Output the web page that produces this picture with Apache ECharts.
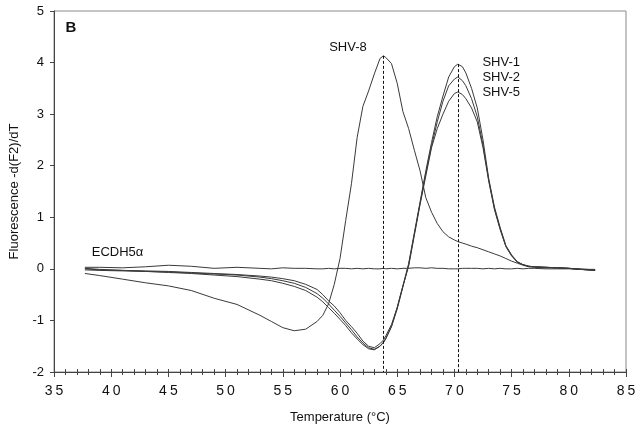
<!DOCTYPE html>
<html>
<head>
<meta charset="utf-8">
<script src="https://cdn.jsdelivr.net/npm/echarts@6/dist/echarts.min.js"></script>
<style>html,body{margin:0;padding:0;background:#fff}#c{width:639px;height:431px}</style>
</head>
<body>
<div id="c"></div>
<script>
// Temperature grid (°C)
var temps = [37.7, 39, 41, 43, 45, 47, 49, 51, 53, 54, 55, 56, 57, 58, 58.5, 59, 59.5, 60, 60.5, 61, 61.5, 62, 62.5, 63, 63.5, 63.8, 64, 64.5, 65, 65.5, 66, 66.5, 67, 67.5, 68, 68.5, 69, 69.5, 70, 70.3, 70.7, 71, 71.5, 72, 72.5, 73, 73.5, 74, 74.5, 75, 75.5, 76, 76.5, 77, 78, 79, 80, 81, 82.3];

var shv8 = [-0.09, -0.13, -0.2, -0.27, -0.33, -0.42, -0.57, -0.69, -0.9, -1.02, -1.14, -1.2, -1.17, -1.02, -0.9, -0.68, -0.3, 0.2, 0.94, 1.65, 2.55, 3.15, 3.45, 3.78, 4.08, 4.13, 4.1, 3.98, 3.6, 3.05, 2.72, 2.3, 1.9, 1.38, 1.1, 0.88, 0.72, 0.62, 0.56, 0.53, 0.5, 0.48, 0.44, 0.41, 0.37, 0.33, 0.29, 0.25, 0.2, 0.15, 0.11, 0.07, 0.04, 0.03, 0.02, 0.02, 0.01, 0.0, -0.02];

var shv1 = [-0.02, -0.03, -0.04, -0.05, -0.07, -0.09, -0.12, -0.15, -0.2, -0.23, -0.28, -0.34, -0.42, -0.55, -0.64, -0.75, -0.86, -0.98, -1.1, -1.24, -1.36, -1.47, -1.55, -1.57, -1.5, -1.42, -1.35, -1.12, -0.75, -0.33, 0.1, 0.7, 1.3, 1.9, 2.45, 2.95, 3.35, 3.72, 3.92, 3.97, 3.92, 3.8, 3.5, 3.12, 2.5, 1.75, 1.2, 0.8, 0.45, 0.27, 0.14, 0.08, 0.05, 0.04, 0.03, 0.02, 0.01, -0.01, -0.03];

var shv2 = [0.0, -0.02, -0.03, -0.05, -0.06, -0.08, -0.1, -0.12, -0.16, -0.19, -0.23, -0.28, -0.36, -0.48, -0.57, -0.68, -0.8, -0.92, -1.05, -1.18, -1.32, -1.44, -1.53, -1.56, -1.5, -1.43, -1.36, -1.12, -0.78, -0.35, 0.08, 0.68, 1.27, 1.85, 2.38, 2.85, 3.25, 3.55, 3.68, 3.72, 3.65, 3.55, 3.3, 2.95, 2.4, 1.72, 1.17, 0.78, 0.44, 0.26, 0.13, 0.08, 0.05, 0.04, 0.03, 0.02, 0.01, -0.01, -0.03];

var shv5 = [0.01, -0.01, -0.03, -0.04, -0.05, -0.07, -0.09, -0.11, -0.14, -0.16, -0.19, -0.23, -0.3, -0.4, -0.5, -0.62, -0.72, -0.85, -1.0, -1.12, -1.25, -1.4, -1.5, -1.53, -1.45, -1.38, -1.3, -1.08, -0.75, -0.33, 0.05, 0.65, 1.25, 1.8, 2.35, 2.72, 3.0, 3.25, 3.4, 3.43, 3.38, 3.3, 3.12, 2.85, 2.35, 1.7, 1.15, 0.76, 0.43, 0.25, 0.13, 0.08, 0.05, 0.04, 0.03, 0.02, 0.01, -0.01, -0.03];

var ecdh = [0.03, 0.03, 0.02, 0.04, 0.07, 0.05, 0.01, 0.03, 0.01, 0.0, 0.02, 0.01, 0.01, 0.0, 0.0, 0.01, 0.0, 0.01, 0.01, 0.0, 0.01, 0.0, 0.01, 0.0, 0.0, 0.01, 0.0, 0.01, 0.0, 0.01, 0.01, 0.02, 0.02, 0.01, 0.02, 0.01, 0.01, 0.0, 0.0, 0.0, 0.01, 0.01, 0.01, 0.01, 0.0, 0.01, 0.0, 0.01, 0.0, 0.0, 0.01, 0.0, 0.01, 0.01, 0.0, 0.0, 0.0, -0.01, -0.01];

var xTicks = {min: 35, max: 85, interval: 5};
var yTicks = {min: -2, max: 5, interval: 1};

var labels = [
  {text: 'SHV-8', at: [59.05, 4.29]},
  {text: 'SHV-1', at: [72.45, 4.0]},
  {text: 'SHV-2', at: [72.45, 3.71]},
  {text: 'SHV-5', at: [72.45, 3.42]},
  {text: 'ECDH5\u03b1', at: [38.3, 0.32]}
];

function pairs(v) { return temps.map(function (t, i) { return [t, v[i]]; }); }
function peak(v) { var k = 0; v.forEach(function (y, i) { if (y > v[k]) k = i; }); return [temps[k], v[k]]; }

var lineColor = '#3a3a3a';
function lineSeries(name, v, extra) {
  var s = {
    name: name, type: 'line', data: pairs(v), showSymbol: false, symbol: 'none',
    lineStyle: {color: lineColor, width: 1}, silent: true, z: 3
  };
  if (extra) {
    var p = peak(v);
    s.markLine = {
      silent: true, symbol: 'none', animation: false, label: {show: false},
      lineStyle: {color: '#111', width: 1, type: [3, 2]},
      data: [[{coord: [p[0], p[1]]}, {coord: [p[0], yTicks.min]}]]
    };
  }
  return s;
}

var font = 'Liberation Sans, Arial, sans-serif';
var chart = echarts.init(document.getElementById('c'), null, {renderer: 'canvas'});
var option = {
  animation: false,
  backgroundColor: '#fff',
  grid: {left: 52, right: 13, top: 11, bottom: 59, show: true, borderColor: '#8a8a8a', borderWidth: 1, backgroundColor: 'transparent'},
  xAxis: [{
    type: 'value', min: xTicks.min, max: xTicks.max, interval: xTicks.interval,
    name: 'Temperature (\u00b0C)', nameLocation: 'middle', nameGap: 39,
    nameTextStyle: {fontFamily: font, fontSize: 13, color: '#111'},
    axisLine: {onZero: false, lineStyle: {color: '#444', width: 1}},
    axisTick: {show: true, length: 5, lineStyle: {color: '#444'}},
    minorTick: {show: true, splitNumber: 5, length: 3, lineStyle: {color: '#444'}},
    splitLine: {show: false},
    axisLabel: {
      margin: 12, color: '#111', fontFamily: font, fontSize: 14,
      formatter: function (v) { return String(v).split('').map(function (c) { return '{d|' + c + '}'; }).join(''); },
      rich: {d: {fontFamily: font, fontSize: 14, color: '#111', padding: [0, 1.5, 0, 1.5]}}
    }
  }, {
    type: 'value', min: xTicks.min, max: xTicks.max, interval: xTicks.interval, position: 'bottom', offset: 0,
    axisLine: {show: false, onZero: false},
    axisTick: {show: true, inside: true, length: 3, lineStyle: {color: '#444'}},
    minorTick: {show: true, splitNumber: 5, length: 3, lineStyle: {color: '#444'}},
    axisLabel: {show: false}, splitLine: {show: false}
  }],
  yAxis: {
    type: 'value', min: yTicks.min, max: yTicks.max, interval: yTicks.interval,
    name: 'Fluorescence -d(F2)/dT', nameLocation: 'middle', nameGap: 33, nameRotate: 90,
    nameTextStyle: {fontFamily: font, fontSize: 13, color: '#111'},
    axisLine: {show: true, onZero: false, lineStyle: {color: '#444', width: 1}},
    axisTick: {show: true, length: 4, lineStyle: {color: '#444'}},
    splitLine: {show: false},
    axisLabel: {margin: 10, color: '#111', fontFamily: font, fontSize: 13}
  },
  series: [
    lineSeries('ECDH5\u03b1', ecdh),
    lineSeries('SHV-5', shv5),
    lineSeries('SHV-2', shv2),
    lineSeries('SHV-1', shv1, true),
    lineSeries('SHV-8', shv8, true)
  ]
};
chart.setOption(option);

var g = labels.map(function (l) {
  var p = chart.convertToPixel({gridIndex: 0}, l.at);
  return {type: 'text', x: p[0], y: p[1], style: {text: l.text, fontFamily: font, fontSize: 13, fill: '#111', verticalAlign: 'middle', align: 'left'}, z: 10};
});
var bp = chart.convertToPixel({gridIndex: 0}, [36.0, 4.68]);
g.push({type: 'text', x: bp[0], y: bp[1], style: {text: 'B', fontFamily: font, fontSize: 15, fontWeight: 'bold', fill: '#111', verticalAlign: 'middle', align: 'left'}, z: 10});
chart.setOption({graphic: g});
</script>
</body>
</html>
